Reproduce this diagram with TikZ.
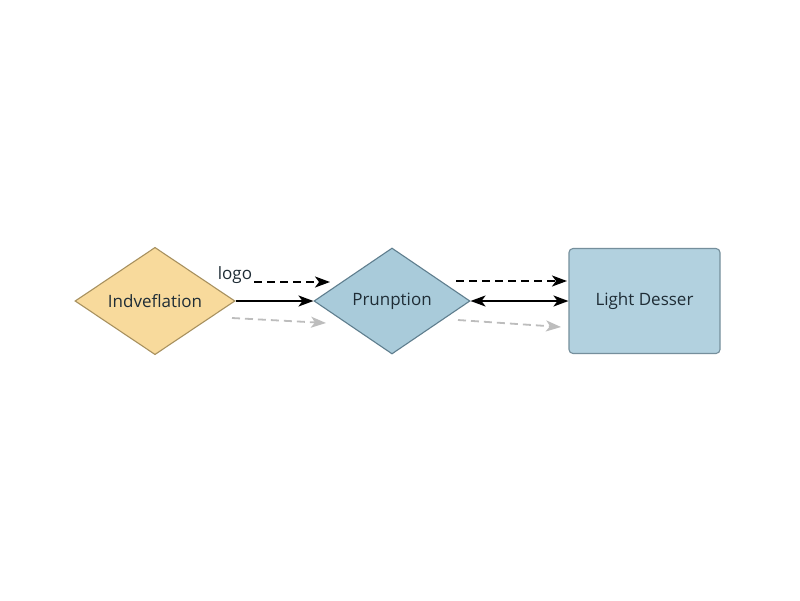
\documentclass[tikz,border=0pt]{standalone}
\usepackage{fontspec}
\setmainfont{Open Sans}
\usetikzlibrary{shapes.geometric,arrows.meta}
\definecolor{yelfill}{HTML}{F8DA9C}
\definecolor{yeldraw}{HTML}{A8915F}
\definecolor{bluefill}{HTML}{A9CBDA}
\definecolor{bluedraw}{HTML}{5F7E8E}
\definecolor{boxfill}{HTML}{B2D1DF}
\definecolor{boxdraw}{HTML}{758F9C}
\definecolor{txt}{HTML}{1F2D36}
\definecolor{ghost}{HTML}{BDBDBD}
\tikzset{
  tip/.tip={Stealth[length=15pt,width=11pt,inset=4pt]},
  dnode/.style={diamond, draw, line width=1.1pt, inner sep=0pt, minimum width=#1, minimum height=106pt, font=\fontsize{17}{20}\selectfont, text=txt},
  bnode/.style={rectangle, rounded corners=4pt, draw=boxdraw, fill=boxfill, line width=1.1pt, minimum width=151pt, minimum height=105pt, font=\fontsize{17}{20}\selectfont, text=txt},
  arr/.style={-tip, line width=1.8pt, black},
  darr/.style={arr, dash pattern=on 8pt off 5pt},
  garr/.style={-tip, line width=1.8pt, ghost, dash pattern=on 8pt off 5pt},
}
\begin{document}
\begin{tikzpicture}[x=1pt,y=-1pt]
\useasboundingbox[fill=white] (0,0) rectangle (800,600);
\node[dnode=160pt, fill=yelfill, draw=yeldraw] (d1) at (155,301) {Indveflation};
\node[dnode=156pt, fill=bluefill, draw=bluedraw] (d2) at (392,301) {Prunption};
\node[bnode] (box) at (644.5,301) {Light Desser};
\node[font=\fontsize{17}{20}\selectfont, text=txt, inner sep=1pt] (logo) at (235,275) {logo};
\coordinate (a1e) at (330,282);
\coordinate (g1s) at (232,318);
\coordinate (g1e) at (326,323);
\coordinate (a2s) at (456,281);
\coordinate (a2e) at (567,281);
\coordinate (g2s) at (458,320);
\coordinate (g2e) at (561,327);
\draw[darr] (logo.east |- a1e) ++(1,0) -- (a1e);
\draw[arr] (d1.east) -- (d2.west);
\draw[garr] (g1s) -- (g1e);
\draw[darr] (a2s) -- (a2e);
\draw[arr, tip-tip] (d2.east) -- (box.west);
\draw[garr] (g2s) -- (g2e);
\end{tikzpicture}
\end{document}
